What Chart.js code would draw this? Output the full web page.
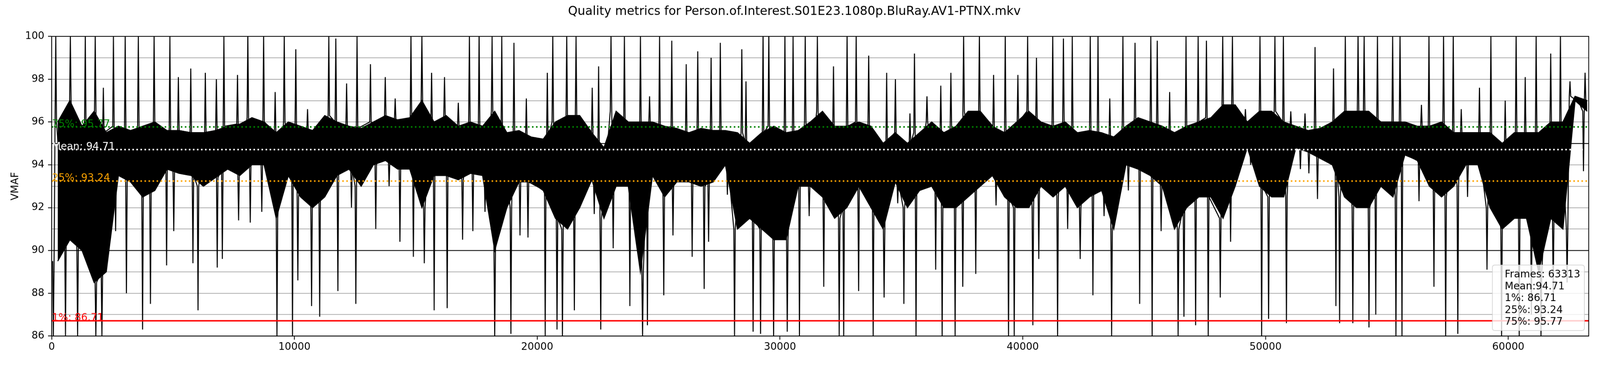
<!DOCTYPE html>
<html>
<head>
<meta charset="utf-8">
<script src="https://cdn.jsdelivr.net/npm/chart.js@4.4.1/dist/chart.umd.min.js"></script>
<style>
html,body{margin:0;padding:0;background:#ffffff;overflow:hidden;}
canvas{display:block;}
</style>
</head>
<body>
<canvas id="c" width="4400" height="1000"></canvas>
<script>
// ---------------- data ----------------
const titleText = "Quality metrics for Person.of.Interest.S01E23.1080p.BluRay.AV1-PTNX.mkv";
const yAxisTitle = "VMAF";
const frameCount = 63313;
const binSize = 500; // frames per bin (values per bin)

// dense band of the VMAF trace per 500-frame bin (upper / lower edge)
const coreHigh = [
 96.0,97.0,95.8,96.5,95.5,95.8,95.6,95.8,96.0,95.6,95.6,95.5,95.5,95.6,95.8,95.9,
 96.2,96.0,95.5,96.0,95.8,95.6,96.3,96.0,95.8,95.7,96.0,96.3,96.1,96.2,97.0,96.0,
 96.3,95.8,96.0,95.8,96.5,95.5,95.6,95.3,95.2,96.0,96.3,96.3,95.5,94.8,96.5,96.0,
 96.0,96.0,95.8,95.7,95.5,95.7,95.6,95.6,95.5,95.0,95.5,95.8,95.5,95.6,96.0,96.5,
 95.8,95.8,96.0,95.8,95.0,95.5,95.0,95.5,96.0,95.5,95.8,96.5,96.5,95.8,95.5,96.0,
 96.5,96.0,95.8,96.0,95.5,95.6,95.5,95.3,95.8,96.2,96.0,95.8,95.5,95.8,96.0,96.2,
 96.8,96.8,96.0,96.5,96.5,96.0,95.8,95.6,95.7,96.0,96.5,96.5,96.5,96.0,96.0,96.0,
 95.8,95.8,96.0,95.5,95.5,95.5,95.5,95.0,95.5,95.5,95.5,96.0,96.0,97.2,97.0
];
const coreLow = [
 89.5,90.5,90.0,88.5,89.0,93.5,93.2,92.5,92.8,93.8,93.6,93.5,93.0,93.4,93.8,93.5,
 94.0,94.0,91.5,93.5,92.5,92.0,92.5,93.5,93.8,93.0,94.0,94.2,93.8,93.8,92.0,93.5,
 93.5,93.3,93.6,93.5,90.0,92.0,93.2,93.2,92.8,91.5,91.0,92.0,93.3,91.5,93.0,93.0,
 89.0,93.5,92.5,93.2,93.2,93.0,93.2,94.0,91.0,91.5,91.0,90.5,90.5,93.0,93.0,92.5,
 91.5,92.0,93.0,92.0,91.0,93.2,92.0,92.8,93.0,92.0,92.0,92.5,93.0,93.5,92.5,92.0,
 92.0,93.0,92.5,93.0,92.0,92.5,92.8,91.0,94.0,93.8,93.5,93.0,91.0,92.0,92.5,92.5,
 91.5,93.0,94.8,93.0,92.5,92.5,94.8,94.6,94.3,94.0,92.5,92.0,92.0,93.0,92.5,94.5,
 94.2,93.0,92.5,93.0,94.0,94.0,92.0,91.0,91.5,91.5,89.0,91.5,91.0,97.0,96.5
];
// highest and lowest excursion per bin, and where in the bin (frame offset) it sits
const peakValues = [
 100,100,100,100,97.6,100,100,100,100,100,98.1,98.5,98.3,98.0,100,98.2,
 100,100,97.4,100,99.4,96.6,100,99.9,97.8,100,98.7,98.1,97.1,100,100,98.3,
 98.1,96.9,100,100,100,100,99.7,97.1,98.3,100,100,100,97.6,98.6,100,100,
 100,97.2,100,99.8,98.7,99.3,99.0,99.7,99.4,97.9,100,100,100,100,100,100,
 98.6,100,100,99.1,98.3,98.0,96.4,99.2,97.2,97.7,98.3,100,100,98.2,100,98.2,
 100,99.0,100,99.9,100,100,100,97.1,100,99.7,100,99.8,97.4,100,100,99.8,
 100,100,96.6,100,100,100,96.5,96.4,99.5,98.5,100,100,100,100,100,100,
 96.8,100,100,100,96.6,97.6,100,97.0,100,98.1,100,99.2,100,97.9,98.3
];
const peakOffset = [
 170,270,385,295,130,45,30,70,220,370,220,230,330,285,95,155,
 81,231,206,81,56,40,416,206,150,80,131,241,150,300,250,150,
 182,250,207,107,142,40,42,52,417,142,217,100,267,30,40,92,
 253,128,40,43,138,113,163,43,428,100,303,40,203,40,40,40,
 204,264,139,154,394,254,354,40,54,124,40,64,214,299,279,299,
 200,65,235,175,40,280,100,85,125,125,275,40,50,225,225,65,
 236,136,171,271,386,236,40,126,40,300,286,311,61,111,236,40,
 422,232,332,232,62,312,282,372,322,197,147,247,147,40,162
];
const dipValues = [
 86,86,86,86,86,90.9,88.0,86.3,87.5,89.3,90.9,89.4,87.2,89.2,89.6,91.4,
 91.3,91.8,86,86,88.6,87.4,86.9,88.1,92.0,87.5,91.0,93.0,90.4,89.7,89.4,87.2,
 87.3,90.5,90.9,91.8,86,86.1,90.7,90.6,86,86.3,86,87.2,91.7,86.3,90.1,87.4,
 86,86.5,87.9,90.7,89.7,88.2,90.4,92.6,86,86.2,86.1,86,86.2,86,91.6,88.3,
 86,86,88.1,86,87.8,92.2,87.5,86,89.1,86,86,88.3,88.9,92.1,86,86,
 86.5,89.6,86,91.0,89.6,87.9,91.6,86,92.8,87.5,86,90.9,86,86.9,86.5,86,
 87.8,90.4,94.0,86,86.8,86.6,93.8,93.6,92.4,87.4,86.6,86.6,86.4,87.0,86,86,
 92.3,88.3,86,86.1,92.5,93.6,89.1,86,86,87,86,88.0,88.5,97.0,93.7
];
const dipOffset = [
 70,70,70,320,70,135,80,245,70,235,30,320,30,320,30,200,
 181,156,281,421,141,206,41,290,350,30,350,400,346,400,350,256,
 292,427,350,350,250,417,292,120,330,317,40,30,350,117,130,317,
 340,40,213,93,383,378,60,333,128,393,200,238,300,303,203,303,
 439,124,239,339,289,350,104,104,414,180,214,30,64,400,414,149,
 415,160,435,350,365,390,350,160,350,315,330,200,400,140,120,140,
 136,61,386,340,126,361,436,286,140,400,51,96,261,40,371,120,
 322,437,420,420,322,350,122,222,450,450,347,350,422,350,97
];

// statistics lines
const refValues = [95.77, 94.71, 93.24, 86.71];
const refLabels = ["75%: 95.77", "Mean: 94.71", "25%: 93.24", "1%: 86.71"];
const refColors = ["#008000", "#ffffff", "#ffa500", "#ff0000"];
const refDashed = [true, true, true, false];

const legendLines = ["Frames: 63313", "Mean:94.71", "1%: 86.71", "25%: 93.24", "75%: 95.77"];

const xTickValues = [0, 10000, 20000, 30000, 40000, 50000, 60000];
const yGridValues = [86,87,88,89,90,91,92,93,94,95,96,97,98,99,100];
const yLabelValues = [86, 88, 90, 92, 94, 96, 98, 100];
const darkGridValues = [90, 95];

// ---------------- fit the 4400x1000 drawing to the viewport ----------------
const canvasEl = document.getElementById("c");
const vw = window.innerWidth || 4400;
canvasEl.style.width = vw + "px";
canvasEl.style.height = (vw * 1000 / 4400) + "px";

// ---------------- build datasets ----------------
const FONT = "DejaVu Sans";
const bandHi = coreHigh.map((v, i) => ({ x: i * binSize + binSize / 2, y: v }));
const bandLo = coreLow.map((v, i) => ({ x: i * binSize + binSize / 2, y: v }));
const spikes = [];
coreHigh.forEach((h, i) => {
  const b = i * binSize;
  const marks = [[peakOffset[i], peakValues[i], h], [dipOffset[i], dipValues[i], coreLow[i]]]
    .sort((p, q) => p[0] - q[0]);
  marks.forEach(([o, v, base]) => {
    spikes.push({ x: b + o - 30, y: base }, { x: b + o, y: v }, { x: b + o + 30, y: base });
  });
});

const datasets = [];
refValues.forEach((v, i) => {
  datasets.push({
    data: [{ x: 0, y: v }, { x: frameCount, y: v }],
    borderColor: refColors[i], borderWidth: 4.2,
    borderDash: refDashed[i] ? [4.2, 6.9] : [],
    pointRadius: 0, fill: false, order: 0, clip: 0
  });
});
datasets.push({ data: spikes, borderColor: "#000", borderWidth: 2.8, pointRadius: 0, fill: false, order: 1, clip: 0, tension: 0 });
datasets.push({ data: bandHi, borderColor: "#000", borderWidth: 2.8, pointRadius: 0, fill: "+1", backgroundColor: "#000", order: 2, clip: 0 });
datasets.push({ data: bandLo, borderColor: "#000", borderWidth: 2.8, pointRadius: 0, fill: false, order: 3, clip: 0 });

// ---------------- plugins ----------------
const framePlugin = {
  id: "frame",
  afterDatasetsDraw(chart) {
    const { ctx, chartArea: a, scales } = chart;
    ctx.save();
    ctx.font = "27.8px '" + FONT + "'";
    ctx.textAlign = "left";
    ctx.textBaseline = "alphabetic";
    const x0 = scales.x.getPixelForValue(0) + 1;
    refValues.forEach((v, i) => {
      ctx.fillStyle = refColors[i];
      ctx.fillText(refLabels[i], x0, scales.y.getPixelForValue(v));
    });
    ctx.strokeStyle = "#000";
    ctx.lineWidth = 2.2;
    ctx.strokeRect(a.left, a.top, a.right - a.left, a.bottom - a.top);
    ctx.restore();
  },
  afterDraw(chart) {
    const { ctx, chartArea: a } = chart;
    const left = a.right - 265, top = a.bottom - 195, w = 253, h = 180, r = 7;
    ctx.save();
    ctx.beginPath();
    ctx.moveTo(left + r, top);
    ctx.lineTo(left + w - r, top);
    ctx.quadraticCurveTo(left + w, top, left + w, top + r);
    ctx.lineTo(left + w, top + h - r);
    ctx.quadraticCurveTo(left + w, top + h, left + w - r, top + h);
    ctx.lineTo(left + r, top + h);
    ctx.quadraticCurveTo(left, top + h, left, top + h - r);
    ctx.lineTo(left, top + r);
    ctx.quadraticCurveTo(left, top, left + r, top);
    ctx.closePath();
    ctx.fillStyle = "rgba(255,255,255,0.8)";
    ctx.fill();
    ctx.strokeStyle = "rgba(204,204,204,0.8)";
    ctx.lineWidth = 2;
    ctx.stroke();
    ctx.fillStyle = "#000";
    ctx.font = "27.8px '" + FONT + "'";
    ctx.textAlign = "left";
    ctx.textBaseline = "alphabetic";
    legendLines.forEach((t, i) => ctx.fillText(t, left + 34, top + 34 + i * 32.5));
    ctx.restore();
  }
};

new Chart(canvasEl, {
  type: "line",
  data: { datasets },
  plugins: [framePlugin],
  options: {
    responsive: false,
    animation: false,
    devicePixelRatio: 1,
    layout: { padding: { left: 0, right: 31, top: 0, bottom: 0 } },
    plugins: {
      legend: { display: false },
      tooltip: { enabled: false },
      title: {
        display: true, text: titleText, color: "#000",
        font: { family: FONT, size: 33.3, weight: "normal" },
        padding: { top: 12, bottom: 48 }
      }
    },
    scales: {
      x: {
        type: "linear", min: 0, max: frameCount,
        afterBuildTicks: s => { s.ticks = xTickValues.map(v => ({ value: v })); },
        afterFit: s => { s.height = 77; },
        ticks: { color: "#000", font: { family: FONT, size: 27.8 }, padding: 4, maxRotation: 0, autoSkip: false,
                 callback: v => String(v) },
        grid: { display: true, drawOnChartArea: false, drawTicks: true, tickLength: 10, tickWidth: 2.2, tickColor: "#000" },
        border: { display: true, color: "#000", width: 2.2 }
      },
      y: {
        type: "linear", min: 86, max: 100,
        afterBuildTicks: s => { s.ticks = yGridValues.map(v => ({ value: v })); },
        afterFit: s => { s.width = 142; },
        ticks: { color: "#000", font: { family: FONT, size: 27.8 }, padding: 10, autoSkip: false,
                 callback: v => yLabelValues.includes(v) ? String(v) : "" },
        grid: {
          display: true, drawOnChartArea: true, drawTicks: true, tickLength: 10, tickWidth: 2.2,
          color: c => darkGridValues.includes(c.tick && c.tick.value) ? "#000" : "#8c8c8c",
          lineWidth: c => darkGridValues.includes(c.tick && c.tick.value) ? 2.2 : 1.5,
          tickColor: c => yLabelValues.includes(c.tick && c.tick.value) ? "#000" : "rgba(0,0,0,0)"
        },
        border: { display: true, color: "#000", width: 2.2 },
        title: { display: true, text: yAxisTitle, color: "#000", font: { family: FONT, size: 27.8 }, padding: { top: 26, bottom: 0 } }
      }
    }
  }
});
</script>
</body>
</html>
